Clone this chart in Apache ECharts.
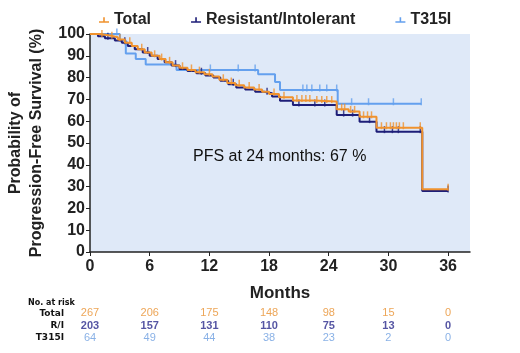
<!DOCTYPE html>
<html>
<head>
<meta charset="utf-8">
<script src="https://cdn.jsdelivr.net/npm/echarts@6/dist/echarts.min.js"></script>
<style>
  html, body { margin: 0; padding: 0; background: #fff; }
  #chart { width: 520px; height: 353px; }
</style>
</head>
<body>
<div id="chart"></div>
<script>
// KM step events: [month, survival % after the event]
const totalSteps = [
  [0, 100], [1, 99.3], [2, 98.5], [2.8, 97.5], [3.5, 96], [4.2, 94.5], [4.8, 93], [5.5, 91.5],
  [6.2, 90], [7, 88.5], [7.6, 87], [8.3, 85.5], [9, 84.5], [9.8, 83.5], [10.6, 82.5], [11.5, 81.5],
  [12.3, 80.5], [13, 79], [13.8, 77.5], [14.6, 76.5], [15.5, 75.5], [16.5, 74.5], [17.3, 73.5],
  [18, 72.5], [19, 71], [20.4, 69.5], [22.5, 69], [24.8, 65.5], [26, 64.5], [27.1, 62], [28.8, 57],
  [33.4, 28.8], [36, 28.8]
]
const riSteps = [
  [0, 100], [0.8, 99], [1.5, 98], [2.5, 97], [3.2, 96], [3.8, 94.5], [4.5, 93], [5.3, 91.5],
  [6, 90], [6.8, 88.5], [7.5, 87], [8.2, 85.5], [9, 84], [9.8, 83], [10.7, 82], [11.6, 81],
  [12.4, 80], [13.1, 78.5], [13.9, 77], [14.7, 75.5], [15.6, 74.5], [16.6, 73.5], [17.5, 72.8],
  [18.3, 71.3], [19.1, 69.4], [20.4, 67.4], [24.8, 62.8], [27.1, 59.8], [28.8, 55.2],
  [33.4, 28], [36, 28]
]
const t315iSteps = [
  [0, 100], [3, 97], [3.6, 91], [4.6, 88.5], [5.6, 86], [8.7, 83.5], [16.9, 81.5], [18.6, 78],
  [19.1, 74.3], [24.9, 68], [33.3, 68]
]

// censored observations (months)
const totalCensor = [1.2, 2.2, 3, 4, 5.2, 6.5, 7.2, 8, 9.3, 10.2, 11, 12, 13.4, 14.2, 15, 16, 17,
  18.5, 19.5, 20.8, 21.3, 21.7, 22.1, 22.8, 23.3, 23.8, 24.3, 25.3, 25.6, 26.2, 26.6, 27.5, 27.9,
  28.3, 29.3, 29.8, 30.2, 30.5, 30.8, 31.1, 31.5, 33.2, 36]
const riCensor = [1.8, 3.5, 5.8, 8.6, 11.2, 14.4, 17.8, 21, 22.6, 23.6, 25.5, 26.4, 28.1,
  29.6, 30.4, 31, 33.2, 36]
const t315iCensor = [2.7, 12.1, 14.9, 16.6, 21.4, 21.8, 22.3, 23.1, 23.8, 24.8, 26.3, 28, 30.5, 33.3]

// number at risk
const riskMonths = [0, 6, 12, 18, 24, 30, 36]
const riskRows = ['Total', 'R/I', 'T315I']
const riskTotal = [267, 206, 175, 148, 98, 15, 0]
const riskRI = [203, 157, 131, 110, 75, 13, 0]
const riskT315I = [64, 49, 44, 38, 23, 2, 0]

const xTicks = [0, 6, 12, 18, 24, 30, 36]

const cTotal = '#f0922e'
const cRI = '#1e1e78'
const cT315I = '#64a0ee'
const font = 'Liberation Sans, Arial, sans-serif'

function survAt(steps, t) {
  let v = steps[0][1]
  for (const [tt, vv] of steps) {
    if (tt <= t) v = vv
  }
  return v
}

function stepSeries(name, steps, color, z) {
  return {
    name,
    type: 'line',
    step: 'end',
    data: steps,
    symbol: 'none',
    z,
    lineStyle: { color, width: 2 },
    itemStyle: { color },
  }
}

function censorSeries(name, steps, times, color, z) {
  return {
    name,
    type: 'scatter',
    data: times.map(t => [t, survAt(steps, t)]),
    symbol: 'rect',
    symbolSize: [1.5, 7],
    symbolOffset: [0, -2],
    z,
    itemStyle: { color },
    silent: true,
  }
}

function riskSeries(row, values, color, weight) {
  return {
    type: 'scatter',
    xAxisIndex: 1,
    yAxisIndex: 1,
    data: riskMonths.map((m, i) => [m, row, values[i]]),
    symbolSize: 1,
    itemStyle: { color: 'rgba(0,0,0,0)' },
    label: {
      show: true,
      position: 'inside',
      formatter: p => p.value[2],
      color,
      fontSize: 11,
      fontWeight: weight,
      fontFamily: font,
    },
    silent: true,
  }
}

const chart = echarts.init(document.getElementById('chart'))

const legendIcon = 'path://M0,4h10v1.6h-10z M4.2,0h1.6v5.6h-1.6z'

chart.setOption({
  animation: false,
  legend: {
    data: [
      { name: 'Total', icon: legendIcon },
      { name: 'Resistant/Intolerant', icon: legendIcon },
      { name: 'T315I', icon: legendIcon },
    ],
    left: 94,
    top: 7,
    itemWidth: 10,
    itemHeight: 8,
    itemGap: 40,
    textStyle: { fontSize: 16, fontWeight: 'bold', color: '#222', fontFamily: font },
  },
  grid: [
    {
      left: 90, right: 50, top: 34, bottom: 101,
      outerBoundsMode: 'none',
      show: true, backgroundColor: '#dfe9f8', borderWidth: 0,
    },
    { left: 90, right: 50, top: 307, height: 37, outerBoundsMode: 'none' },
  ],
  xAxis: [
    {
      type: 'value',
      gridIndex: 0,
      min: 0,
      max: 38.2,
      interval: 6,
      name: 'Months',
      nameLocation: 'middle',
      nameGap: 33,
      nameTextStyle: { fontSize: 17, fontWeight: 'bold', color: '#222', fontFamily: font },
      splitLine: { show: false },
      axisLine: { lineStyle: { color: '#222', width: 1.5 } },
      axisTick: { customValues: xTicks, length: 4, lineStyle: { color: '#222' } },
      axisLabel: {
        customValues: xTicks,
        fontSize: 16, fontWeight: 'bold', color: '#222', fontFamily: font, margin: 7,
      },
    },
    {
      type: 'value',
      gridIndex: 1,
      min: 0,
      max: 38.2,
      show: false,
    },
  ],
  yAxis: [
    {
      type: 'value',
      gridIndex: 0,
      min: 0,
      max: 100,
      interval: 10,
      name: 'Probability of\nProgression-Free Survival (%)',
      nameLocation: 'middle',
      nameGap: 37,
      nameTextStyle: { fontSize: 16, fontWeight: 'bold', color: '#222', fontFamily: font, lineHeight: 21 },
      splitLine: { show: false },
      axisLine: { show: true, lineStyle: { color: '#222', width: 1.5 } },
      axisTick: { show: true, length: 4, lineStyle: { color: '#222' } },
      axisLabel: { fontSize: 16, fontWeight: 'bold', color: '#222', fontFamily: font, margin: 5 },
    },
    {
      type: 'category',
      gridIndex: 1,
      data: riskRows,
      inverse: true,
      axisLine: { show: false },
      axisTick: { show: false },
      axisLabel: { fontSize: 9, fontWeight: 'bold', color: '#111', fontFamily: 'DejaVu Sans', margin: 26 },
    },
  ],
  graphic: [
    {
      type: 'text', left: 28, top: 299,
      style: { text: 'No. at risk', fontSize: 8, fontWeight: 'bold', fill: '#111', fontFamily: 'DejaVu Sans' },
    },
    {
      type: 'text', left: 193, top: 149,
      style: { text: 'PFS at 24 months: 67 %', fontSize: 16, fill: '#111', fontFamily: font },
    },
  ],
  series: [
    stepSeries('T315I', t315iSteps, cT315I, 2),
    stepSeries('Resistant/Intolerant', riSteps, cRI, 3),
    stepSeries('Total', totalSteps, cTotal, 4),
    censorSeries('T315I censored', t315iSteps, t315iCensor, cT315I, 2),
    censorSeries('R/I censored', riSteps, riCensor, cRI, 3),
    censorSeries('Total censored', totalSteps, totalCensor, cTotal, 4),
    riskSeries('Total', riskTotal, '#e8902e', 'normal'),
    riskSeries('R/I', riskRI, '#2a2a8c', 'bold'),
    riskSeries('T315I', riskT315I, '#6b9de0', 'normal'),
  ],
})
</script>
</body>
</html>
